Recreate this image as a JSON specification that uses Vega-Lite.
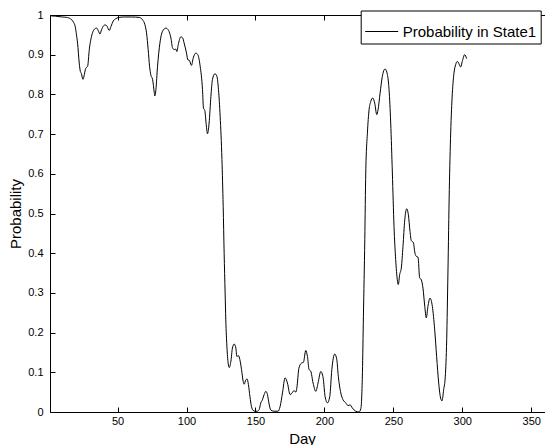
{
  "$schema": "https://vega.github.io/schema/vega-lite/v6.json",
  "width": 495,
  "height": 397,
  "autosize": {"type": "none"},
  "padding": {"left": 50, "top": 15, "right": 0, "bottom": 33},
  "background": "white",
  "config": {
    "view": {"stroke": null},
    "font": "Liberation Sans",
    "axis": {
      "grid": false,
      "domainColor": "black",
      "tickColor": "black",
      "labelColor": "black",
      "titleColor": "black",
      "labelFontSize": 11,
      "titleFontSize": 15,
      "titleFontWeight": "normal",
      "tickSize": -5,
      "domainWidth": 1,
      "tickWidth": 1
    }
  },
  "data": {
    "values": [
      {"day": 1, "p": 0.998}, {"day": 5, "p": 0.997}, {"day": 10, "p": 0.995}, {"day": 13, "p": 0.994},
      {"day": 16, "p": 0.99}, {"day": 18, "p": 0.982}, {"day": 19.3, "p": 0.971}, {"day": 20.2, "p": 0.95},
      {"day": 21, "p": 0.929}, {"day": 22.2, "p": 0.879}, {"day": 23, "p": 0.858}, {"day": 23.7, "p": 0.853},
      {"day": 24.9, "p": 0.838}, {"day": 25.9, "p": 0.85}, {"day": 26.6, "p": 0.862}, {"day": 27.5, "p": 0.868},
      {"day": 28.3, "p": 0.871}, {"day": 29.5, "p": 0.913}, {"day": 31.4, "p": 0.95}, {"day": 33.8, "p": 0.966},
      {"day": 34.8, "p": 0.967}, {"day": 36.2, "p": 0.959}, {"day": 37.2, "p": 0.952}, {"day": 38.4, "p": 0.963},
      {"day": 39.9, "p": 0.973}, {"day": 41.1, "p": 0.975}, {"day": 42.3, "p": 0.972}, {"day": 44, "p": 0.961},
      {"day": 45.2, "p": 0.971}, {"day": 46.9, "p": 0.985}, {"day": 48.8, "p": 0.991}, {"day": 51.2, "p": 0.994},
      {"day": 55, "p": 0.995}, {"day": 60, "p": 0.995}, {"day": 65.7, "p": 0.994}, {"day": 68.1, "p": 0.988},
      {"day": 69.8, "p": 0.976}, {"day": 71, "p": 0.955}, {"day": 72.2, "p": 0.913}, {"day": 73.2, "p": 0.871},
      {"day": 74.2, "p": 0.848}, {"day": 75.4, "p": 0.838}, {"day": 76.6, "p": 0.805}, {"day": 77, "p": 0.796},
      {"day": 77.8, "p": 0.812}, {"day": 79, "p": 0.871}, {"day": 80.7, "p": 0.929}, {"day": 82.6, "p": 0.959},
      {"day": 85.1, "p": 0.967}, {"day": 87, "p": 0.961}, {"day": 88.7, "p": 0.942}, {"day": 89.9, "p": 0.917},
      {"day": 91.1, "p": 0.913}, {"day": 92.3, "p": 0.914}, {"day": 93, "p": 0.908}, {"day": 94, "p": 0.925},
      {"day": 95.9, "p": 0.945}, {"day": 97.1, "p": 0.943}, {"day": 98.3, "p": 0.929}, {"day": 100, "p": 0.904},
      {"day": 101, "p": 0.887}, {"day": 102, "p": 0.886}, {"day": 103.6, "p": 0.873}, {"day": 104.9, "p": 0.892},
      {"day": 106.8, "p": 0.904}, {"day": 108.2, "p": 0.9}, {"day": 109.9, "p": 0.871}, {"day": 111.6, "p": 0.812},
      {"day": 112.3, "p": 0.766}, {"day": 113.3, "p": 0.759}, {"day": 114.3, "p": 0.724}, {"day": 115.2, "p": 0.701},
      {"day": 116.4, "p": 0.728}, {"day": 117.7, "p": 0.795}, {"day": 118.8, "p": 0.837}, {"day": 120.6, "p": 0.852},
      {"day": 122, "p": 0.846}, {"day": 123.2, "p": 0.812}, {"day": 124.4, "p": 0.745}, {"day": 125.7, "p": 0.636},
      {"day": 126.6, "p": 0.518}, {"day": 127.3, "p": 0.4}, {"day": 128, "p": 0.3}, {"day": 128.5, "p": 0.232},
      {"day": 129.3, "p": 0.165}, {"day": 130.2, "p": 0.123}, {"day": 131, "p": 0.112}, {"day": 132.2, "p": 0.128},
      {"day": 133.3, "p": 0.161}, {"day": 134.6, "p": 0.171}, {"day": 135.8, "p": 0.161}, {"day": 136.5, "p": 0.14},
      {"day": 137.7, "p": 0.142}, {"day": 138.7, "p": 0.132}, {"day": 139.9, "p": 0.107}, {"day": 141.1, "p": 0.077},
      {"day": 141.8, "p": 0.07}, {"day": 143, "p": 0.081}, {"day": 144, "p": 0.083}, {"day": 144.9, "p": 0.069},
      {"day": 146, "p": 0.039}, {"day": 147.1, "p": 0.014}, {"day": 148.3, "p": 0.004}, {"day": 149.8, "p": 0.002},
      {"day": 151.4, "p": 0.002}, {"day": 152.7, "p": 0.006}, {"day": 153.9, "p": 0.023}, {"day": 155.1, "p": 0.031},
      {"day": 156.3, "p": 0.044}, {"day": 157.5, "p": 0.052}, {"day": 158.7, "p": 0.044}, {"day": 159.9, "p": 0.02},
      {"day": 161.1, "p": 0.005}, {"day": 163.5, "p": 0.002}, {"day": 166.4, "p": 0.002}, {"day": 167.9, "p": 0.014},
      {"day": 169.6, "p": 0.048}, {"day": 171.5, "p": 0.086}, {"day": 173.2, "p": 0.073}, {"day": 175.1, "p": 0.044},
      {"day": 176.4, "p": 0.047}, {"day": 178, "p": 0.054}, {"day": 179.2, "p": 0.05}, {"day": 180, "p": 0.06},
      {"day": 181.5, "p": 0.11}, {"day": 183.3, "p": 0.123}, {"day": 184.8, "p": 0.125}, {"day": 186.5, "p": 0.155},
      {"day": 187.7, "p": 0.14}, {"day": 188.9, "p": 0.107}, {"day": 190.1, "p": 0.103}, {"day": 191.8, "p": 0.073},
      {"day": 193.8, "p": 0.052}, {"day": 195.4, "p": 0.073}, {"day": 197.4, "p": 0.102}, {"day": 199.1, "p": 0.086},
      {"day": 200.5, "p": 0.039}, {"day": 202.2, "p": 0.023}, {"day": 203.9, "p": 0.039}, {"day": 205.4, "p": 0.107},
      {"day": 207.5, "p": 0.146}, {"day": 209, "p": 0.132}, {"day": 210.1, "p": 0.09}, {"day": 211.9, "p": 0.048},
      {"day": 213.5, "p": 0.031}, {"day": 215.5, "p": 0.023}, {"day": 217.2, "p": 0.016}, {"day": 218.6, "p": 0.018},
      {"day": 220.3, "p": 0.01}, {"day": 222.7, "p": 0.002}, {"day": 225.1, "p": 0.0}, {"day": 226.4, "p": 0.008},
      {"day": 227.1, "p": 0.04}, {"day": 227.6, "p": 0.1}, {"day": 228.3, "p": 0.24}, {"day": 229.3, "p": 0.434},
      {"day": 230, "p": 0.602}, {"day": 231.2, "p": 0.703}, {"day": 232.4, "p": 0.761}, {"day": 233.6, "p": 0.782},
      {"day": 235.1, "p": 0.791}, {"day": 236.5, "p": 0.778}, {"day": 238, "p": 0.749}, {"day": 238.9, "p": 0.761},
      {"day": 240.4, "p": 0.803}, {"day": 242, "p": 0.845}, {"day": 244, "p": 0.864}, {"day": 245.7, "p": 0.85},
      {"day": 246.9, "p": 0.812}, {"day": 248.1, "p": 0.728}, {"day": 249.3, "p": 0.602}, {"day": 250.5, "p": 0.467},
      {"day": 251.7, "p": 0.384}, {"day": 252.9, "p": 0.333}, {"day": 253.6, "p": 0.321}, {"day": 254.6, "p": 0.346},
      {"day": 255.8, "p": 0.363}, {"day": 257, "p": 0.417}, {"day": 258.3, "p": 0.484}, {"day": 259.7, "p": 0.512},
      {"day": 260.9, "p": 0.497}, {"day": 262.1, "p": 0.455}, {"day": 263, "p": 0.432}, {"day": 264.5, "p": 0.427},
      {"day": 265.7, "p": 0.4}, {"day": 266.7, "p": 0.392}, {"day": 267.9, "p": 0.39}, {"day": 269.1, "p": 0.338},
      {"day": 270.3, "p": 0.333}, {"day": 271.5, "p": 0.312}, {"day": 272.8, "p": 0.266}, {"day": 273.9, "p": 0.237},
      {"day": 275.1, "p": 0.266}, {"day": 276.6, "p": 0.287}, {"day": 278.3, "p": 0.266}, {"day": 280, "p": 0.207},
      {"day": 281.4, "p": 0.14}, {"day": 282.9, "p": 0.073}, {"day": 284.3, "p": 0.035}, {"day": 285.3, "p": 0.028},
      {"day": 286.5, "p": 0.056}, {"day": 287.7, "p": 0.09}, {"day": 288.7, "p": 0.182}, {"day": 289.6, "p": 0.35},
      {"day": 290.6, "p": 0.56}, {"day": 291.6, "p": 0.703}, {"day": 292.8, "p": 0.803}, {"day": 294, "p": 0.854},
      {"day": 295.2, "p": 0.875}, {"day": 296.4, "p": 0.883}, {"day": 297.6, "p": 0.877}, {"day": 298.8, "p": 0.869},
      {"day": 300, "p": 0.883}, {"day": 301.7, "p": 0.9}, {"day": 303.2, "p": 0.89}
    ]
  },
  "resolve": {"axis": {"x": "independent"}},
  "layer": [
    {
      "mark": {"type": "line", "interpolate": "monotone", "strokeWidth": 1},
      "encoding": {
        "x": {
          "field": "day", "type": "quantitative",
          "scale": {"domain": [1, 360], "nice": false, "zero": false},
          "axis": {"title": "Day", "values": [50, 100, 150, 200, 250, 300, 350], "labelPadding": 8, "titleX": 252, "titleY": 31, "titleBaseline": "alphabetic"}
        },
        "y": {
          "field": "p", "type": "quantitative",
          "scale": {"domain": [0, 1], "nice": false, "zero": false},
          "axis": {"title": "Probability", "values": [0, 0.1, 0.2, 0.3, 0.4, 0.5, 0.6, 0.7, 0.8, 0.9, 1], "format": "~g", "labelPadding": 12, "titleX": -26.5}
        },
        "color": {
          "datum": "Probability in State1", "type": "nominal",
          "scale": {"range": ["black"]},
          "legend": {
            "title": null, "orient": "none", "legendX": 310.7, "legendY": -4.5,
            "strokeColor": "black", "fillColor": "white", "padding": 4, "cornerRadius": 0,
            "symbolType": "stroke", "symbolSize": 1089, "symbolStrokeWidth": 1, "symbolStrokeColor": "black",
            "labelFontSize": 15, "labelColor": "black", "labelOffset": 4
          }
        }
      }
    },
    {
      "mark": {"type": "rule", "strokeOpacity": 0},
      "encoding": {
        "x": {
          "field": "day", "type": "quantitative",
          "axis": {"orient": "top", "title": null, "labels": false, "values": [50, 100, 150, 200, 250, 300, 350]}
        }
      }
    }
  ]
}
